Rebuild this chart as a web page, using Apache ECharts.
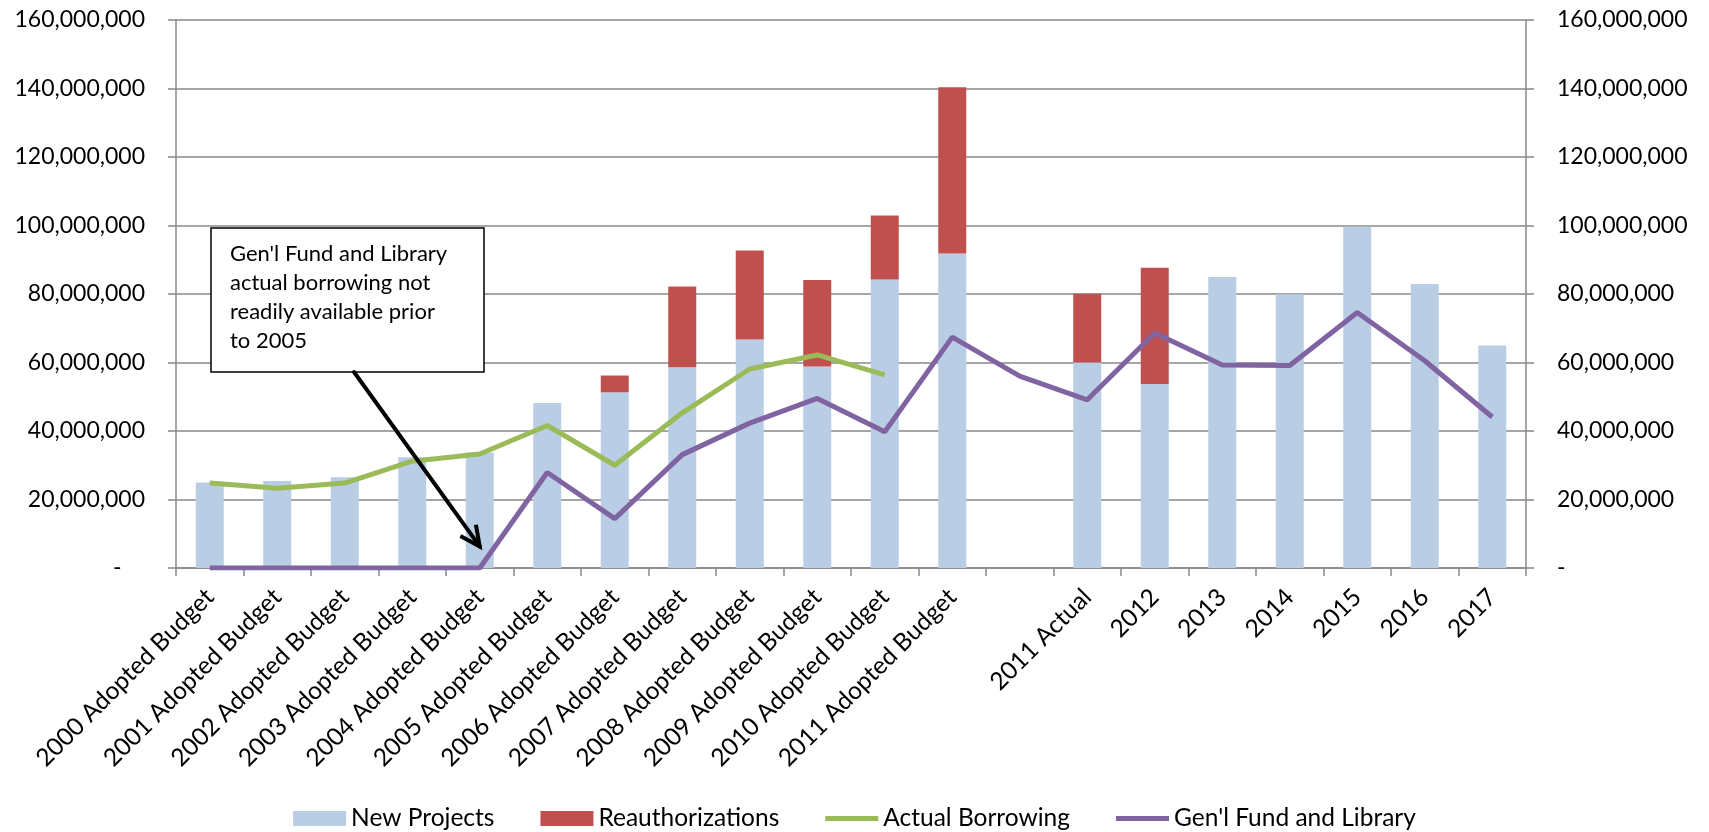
<!DOCTYPE html>
<html>
<head>
<meta charset="utf-8">
<script src="https://cdn.jsdelivr.net/npm/echarts@6/dist/echarts.min.js"></script>
<style>
  html, body { margin: 0; padding: 0; background: #fff; }
  #chart { width: 1709px; height: 832px; }
</style>
</head>
<body>
<div id="chart"></div>
<script>
// Capital budget categories (one empty slot separates adopted budgets from actuals/plan)
const categories = [
  '2000 Adopted Budget', '2001 Adopted Budget', '2002 Adopted Budget', '2003 Adopted Budget',
  '2004 Adopted Budget', '2005 Adopted Budget', '2006 Adopted Budget', '2007 Adopted Budget',
  '2008 Adopted Budget', '2009 Adopted Budget', '2010 Adopted Budget', '2011 Adopted Budget',
  '', '2011 Actual', '2012', '2013', '2014', '2015', '2016', '2017'
];

const newProjects = [
  25000000, 25400000, 26500000, 32300000, 33700000, 48200000, 51300000, 58600000,
  66700000, 58800000, 84200000, 91800000, null, 60000000, 53700000, 85000000,
  79900000, 99600000, 82900000, 65000000
];

const reauthorizations = [
  null, null, null, null, null, null, 4900000, 23600000,
  26000000, 25300000, 18700000, 48600000, null, 20100000, 34000000, null,
  null, null, null, null
];

const actualBorrowing = [
  24800000, 23300000, 24800000, 31200000, 33300000, 41600000, 30000000, 45300000,
  58100000, 62200000, 56400000, null, null, null, null, null,
  null, null, null, null
];

const genFundLibrary = [
  0, 0, 0, 0, 0, 27900000, 14400000, 33100000,
  42300000, 49500000, 39800000, 67400000, 56000000, 49100000, 68600000, 59300000,
  59100000, 74600000, 60500000, 44100000
];

const seriesNames = ['New Projects', 'Reauthorizations', 'Actual Borrowing', "Gen'l Fund and Library"];
const noteLines = ["Gen'l Fund and Library", 'actual borrowing not', 'readily available prior', 'to 2005'];

const FONT = 'Lato';
const GRID_COLOR = '#888888';
const COLORS = ['#B9CDE5', '#C0504D', '#9BBB59', '#8064A2'];

function fmtLeft(v) { return v === 0 ? '-    ' : v.toLocaleString('en-US'); }
function fmtRight(v) { return v === 0 ? '-' : v.toLocaleString('en-US'); }

// plain stroke used as the legend key for the two line series
const LINE_ICON = 'path://M0,0 L53,0 L53,5 L0,5 Z';

const chart = echarts.init(document.getElementById('chart'), null, { renderer: 'canvas' });

const valueAxisBase = {
  type: 'value', min: 0, max: 160000000, interval: 20000000,
  axisLine: { show: true, lineStyle: { color: GRID_COLOR, width: 1.5 } },
  axisTick: { show: true, length: 8, lineStyle: { color: GRID_COLOR, width: 1.5 } },
  axisLabel: { color: '#000', fontFamily: FONT, fontSize: 23, margin: 31 }
};

chart.setOption({
  animation: false,
  backgroundColor: '#fff',
  textStyle: { fontFamily: FONT },
  grid: { left: 176, right: 183, top: 20, bottom: 264, containLabel: false },
  legend: {
    top: 801, left: 'center',
    itemWidth: 53, itemHeight: 15, itemGap: 46,
    textStyle: { color: '#000', fontFamily: FONT, fontSize: 24.5 },
    data: [
      { name: seriesNames[0], icon: 'rect' },
      { name: seriesNames[1], icon: 'rect' },
      { name: seriesNames[2], icon: LINE_ICON },
      { name: seriesNames[3], icon: LINE_ICON }
    ]
  },
  xAxis: {
    type: 'category', data: categories, boundaryGap: true,
    axisLine: { lineStyle: { color: GRID_COLOR, width: 1.5 } },
    axisTick: { show: true, length: 8, alignWithLabel: false, interval: 0, lineStyle: { color: GRID_COLOR, width: 1.5 } },
    axisLabel: {
      interval: 0, rotate: 45, color: '#000', fontFamily: FONT, fontSize: 24.5,
      margin: 25, align: 'right', verticalAlign: 'middle', padding: [18, 0, 0, 0]
    }
  },
  yAxis: [
    Object.assign({}, valueAxisBase, {
      position: 'left',
      splitLine: { show: true, lineStyle: { color: GRID_COLOR, width: 1.5 } },
      axisLabel: Object.assign({}, valueAxisBase.axisLabel, { formatter: fmtLeft })
    }),
    Object.assign({}, valueAxisBase, {
      position: 'right',
      splitLine: { show: false },
      axisLabel: Object.assign({}, valueAxisBase.axisLabel, { formatter: fmtRight })
    })
  ],
  series: [
    {
      name: seriesNames[0], type: 'bar', stack: 'budget', barWidth: 28,
      itemStyle: { color: COLORS[0] }, data: newProjects
    },
    {
      name: seriesNames[1], type: 'bar', stack: 'budget', barWidth: 28,
      itemStyle: { color: COLORS[1] }, data: reauthorizations
    },
    {
      name: seriesNames[2], type: 'line', symbol: 'none', connectNulls: false,
      lineStyle: { color: COLORS[2], width: 5 }, itemStyle: { color: COLORS[2] },
      data: actualBorrowing, z: 3
    },
    {
      name: seriesNames[3], type: 'line', symbol: 'none',
      lineStyle: { color: COLORS[3], width: 5 }, itemStyle: { color: COLORS[3] },
      data: genFundLibrary, z: 4
    }
  ]
});

// Callout box with an arrow pointing at the 2004 Gen'l Fund value
const tip = chart.convertToPixel({ xAxisIndex: 0, yAxisIndex: 0 }, [categories[4], 6300000]);
const box = { x: 211, y: 228, w: 273, h: 144 };
const start = [354, box.y + box.h];
const ang = Math.atan2(tip[1] - start[1], tip[0] - start[0]);
const headLen = 22, headSpread = 0.45;
const h1 = [tip[0] - headLen * Math.cos(ang - headSpread), tip[1] - headLen * Math.sin(ang - headSpread)];
const h2 = [tip[0] - headLen * Math.cos(ang + headSpread), tip[1] - headLen * Math.sin(ang + headSpread)];

chart.setOption({
  graphic: [
    {
      type: 'rect', z: 100,
      shape: { x: box.x, y: box.y, width: box.w, height: box.h },
      style: { fill: '#fff', stroke: '#000', lineWidth: 1.5 }
    },
    {
      type: 'text', z: 101, x: box.x + 19, y: box.y + 11,
      style: {
        text: noteLines.join('\n'), fill: '#000', font: '22px ' + FONT,
        lineHeight: 29, textVerticalAlign: 'top'
      }
    },
    {
      type: 'line', z: 101,
      shape: { x1: start[0], y1: start[1], x2: tip[0], y2: tip[1] },
      style: { stroke: '#000', lineWidth: 4, lineCap: 'round' }
    },
    {
      type: 'polyline', z: 101,
      shape: { points: [h1, tip, h2] },
      style: { stroke: '#000', lineWidth: 4, lineJoin: 'miter', fill: null }
    }
  ]
});
</script>
</body>
</html>
